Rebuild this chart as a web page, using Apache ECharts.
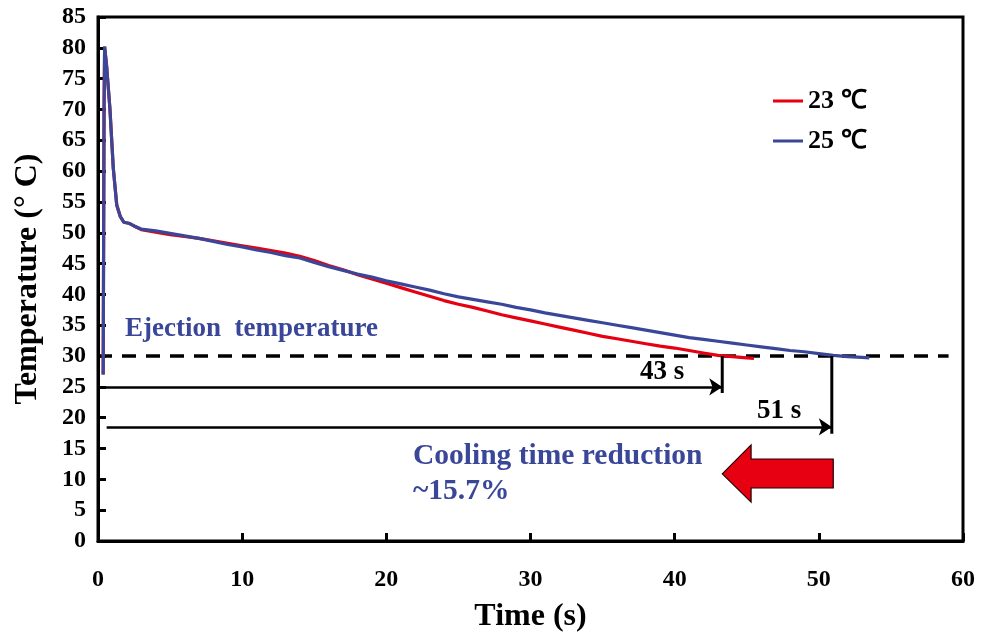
<!DOCTYPE html>
<html><head><meta charset="utf-8">
<script src="https://cdn.jsdelivr.net/npm/echarts@6/dist/echarts.min.js"></script>
<style>html,body{margin:0;padding:0;background:#fff}#c{width:983px;height:634px}</style>
</head><body><div id="c"></div>
<script>
const xTicks = [0,10,20,30,40,50,60];
const yTicks = [0,5,10,15,20,25,30,35,40,45,50,55,60,65,70,75,80,85];
const seriesNames = ['23 ℃','25 ℃'];
const red23 = [[0.36,27],[0.42,70],[0.46,80.2],[0.6,77],[0.83,70],[1.06,60.5],[1.3,54.5],[1.55,52.6],[1.8,51.7],[2.2,51.5],[2.5,51.1],[3.0,50.5],[4.0,50.1],[5.0,49.7],[6.0,49.4],[7.0,49.1],[8.0,48.7],[9.0,48.3],[10.0,47.9],[11.0,47.5],[12.0,47.1],[13.0,46.7],[14.0,46.2],[15.0,45.5],[16.0,44.7],[17.0,44.0],[18.0,43.2],[19.0,42.5],[20.0,41.8],[21.0,41.1],[22.0,40.4],[23.0,39.7],[24.0,39.0],[25.0,38.4],[26.0,37.9],[27.0,37.3],[28.0,36.7],[29.0,36.2],[30.0,35.7],[31.0,35.2],[32.0,34.7],[33.0,34.2],[34.0,33.7],[35.0,33.2],[36.0,32.8],[37.0,32.4],[38.0,32.0],[39.0,31.6],[40.0,31.3],[41.0,30.9],[42.0,30.5],[43.0,30.1],[44.0,29.9],[45.0,29.7],[45.5,29.6]];
const blue25 = [[0.36,27],[0.42,70],[0.46,80.2],[0.6,77],[0.83,70],[1.06,60.5],[1.3,54.5],[1.55,52.6],[1.8,51.7],[2.2,51.5],[2.5,51.1],[3.0,50.6],[4.0,50.3],[5.0,49.9],[6.0,49.5],[7.0,49.1],[8.0,48.6],[9.0,48.1],[10.0,47.7],[11.0,47.2],[12.0,46.8],[13.0,46.3],[14.0,45.9],[15.0,45.2],[16.0,44.5],[17.0,43.9],[18.0,43.3],[19.0,42.8],[20.0,42.2],[21.0,41.7],[22.0,41.2],[23.0,40.7],[24.0,40.1],[25.0,39.6],[26.0,39.2],[27.0,38.8],[28.0,38.4],[29.0,37.9],[30.0,37.5],[31.0,37.0],[32.0,36.6],[33.0,36.2],[34.0,35.8],[35.0,35.4],[36.0,35.0],[37.0,34.6],[38.0,34.2],[39.0,33.8],[40.0,33.4],[41.0,33.0],[42.0,32.7],[43.0,32.4],[44.0,32.1],[45.0,31.8],[46.0,31.5],[47.0,31.2],[48.0,30.9],[49.0,30.7],[50.0,30.4],[51.0,30.1],[52.0,29.9],[53.0,29.8],[53.5,29.7]];
const ejectionLine = [[0,30],[59,30]];
const arrow43 = [[0.4,25],[43.3,25]];
const arrow51 = [[0.6,18.5],[50.9,18.5]];
const drop43 = [[43.3,30],[43.3,24]];
const drop51 = [[50.9,30],[50.9,17.4]];
const bigArrow = [[43.3,10.9],[45.3,15.6],[45.3,13.3],[51.0,13.3],[51.0,8.6],[45.3,8.6],[45.3,6.3]];

const FONT = '"Liberation Serif","Times New Roman",serif';
const RED = '#e60012', BLUE = '#3a4799';
const chart = echarts.init(document.getElementById('c'));
chart.setOption({
  animation:false,
  backgroundColor:'#fff',
  grid:{left:98,right:20,top:17,bottom:93,show:true,borderColor:'#000',borderWidth:3,backgroundColor:'transparent',containLabel:false,outerBoundsMode:'none'},
  legend:{orient:'vertical',left:773,top:88,padding:0,itemGap:14,itemWidth:30,itemHeight:3,icon:'rect',
    data:[{name:seriesNames[0],itemStyle:{color:RED}},{name:seriesNames[1],itemStyle:{color:BLUE}}],
    textStyle:{fontFamily:FONT,fontWeight:'bold',fontSize:26,color:'#000'}},
  xAxis:{type:'value',min:0,max:60,interval:10,
    name:'Time (s)',nameLocation:'middle',nameGap:60,
    nameTextStyle:{fontFamily:FONT,fontWeight:'bold',fontSize:32,color:'#000'},
    axisLine:{show:true,lineStyle:{color:'#000',width:3}},
    axisTick:{show:true,inside:true,length:8,lineStyle:{color:'#000',width:3}},
    axisLabel:{margin:27,fontFamily:FONT,fontWeight:'bold',fontSize:24,color:'#000',formatter:v=>xTicks.includes(v)?String(v):''},
    splitLine:{show:false}},
  yAxis:{type:'value',min:0,max:85,interval:5,
    name:'Temperature (° C)',nameLocation:'middle',nameGap:54,nameTextStyle:{fontFamily:FONT,fontWeight:'bold',fontSize:32,color:'#000'},
    axisLine:{show:true,lineStyle:{color:'#000',width:3}},
    axisTick:{show:true,inside:true,length:8,lineStyle:{color:'#000',width:3}},
    axisLabel:{margin:12,fontFamily:FONT,fontWeight:'bold',fontSize:24,color:'#000',formatter:v=>yTicks.includes(v)?String(v):''},
    splitLine:{show:false}},
  series:[
    {type:'line',name:'ejection',data:ejectionLine,symbol:'none',silent:true,
      lineStyle:{color:'#000',width:3.5,type:[14,10]},z:3},
    {type:'line',name:seriesNames[0],data:red23,symbol:'none',lineStyle:{color:RED,width:3.2},itemStyle:{color:RED},z:4},
    {type:'line',name:seriesNames[1],data:blue25,symbol:'none',lineStyle:{color:BLUE,width:3.2},itemStyle:{color:BLUE},z:5},
    {type:'line',name:'d43',data:drop43,symbol:'none',lineStyle:{color:'#000',width:3},z:6},
    {type:'line',name:'d51',data:drop51,symbol:'none',lineStyle:{color:'#000',width:3},z:6},
    {type:'lines',coordinateSystem:'cartesian2d',z:6,symbol:['none','arrow'],symbolSize:13,
      lineStyle:{color:'#000',width:2.5,opacity:1},
      data:[{coords:arrow43},{coords:arrow51}]},
    {type:'custom',name:'bigArrow',z:7,data:[[bigArrow[0][0],bigArrow[0][1]]],
      renderItem:(params,api)=>({type:'polygon',shape:{points:bigArrow.map(p=>api.coord(p))},
        style:{fill:RED,stroke:'#200000',lineWidth:1.2}})}
  ],
  graphic:[
    {type:'text',left:125,top:316,style:{text:'Ejection  temperature',fontFamily:FONT,fontWeight:'bold',fontSize:27,fill:BLUE}},
    {type:'text',left:640,top:359,style:{text:'43 s',fontFamily:FONT,fontWeight:'bold',fontSize:27,fill:'#000'}},
    {type:'text',left:757,top:398,style:{text:'51 s',fontFamily:FONT,fontWeight:'bold',fontSize:27,fill:'#000'}},
    {type:'text',left:413,top:441,style:{text:'Cooling time reduction',fontFamily:FONT,fontWeight:'bold',fontSize:29.5,fill:BLUE}},
    {type:'text',left:413,top:476,style:{text:'~15.7%',fontFamily:FONT,fontWeight:'bold',fontSize:29.5,fill:BLUE}}
  ]
});
</script></body></html>
